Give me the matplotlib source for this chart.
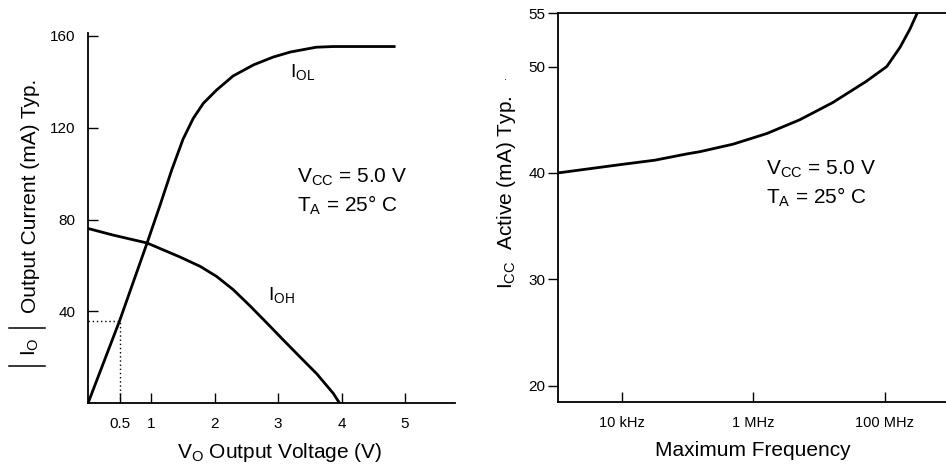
import matplotlib
matplotlib.use("Agg")
import matplotlib.pyplot as plt
from matplotlib.lines import Line2D

plt.rcParams['font.family'] = ['Liberation Sans', 'DejaVu Sans']
plt.rcParams['mathtext.fontset'] = 'custom'
plt.rcParams['mathtext.rm'] = 'Liberation Sans'
plt.rcParams['mathtext.it'] = 'Liberation Sans:italic'

# left chart: output current vs output voltage
v_ol = [0, 0.5, 0.93, 1.14, 1.32, 1.50, 1.66, 1.82, 2.03, 2.29, 2.61, 2.92, 3.19, 3.60, 3.87, 4.83]
i_ol = [0, 36, 69.6, 86.5, 101.5, 115.0, 124.0, 130.6, 136.4, 142.5, 147.3, 150.7, 152.9, 155, 155.3, 155.3]
v_oh = [0, 0.40, 0.93, 1.45, 1.77, 2.03, 2.29, 2.56, 2.82, 3.08, 3.34, 3.61, 3.87, 3.97]
i_oh = [76.1, 73.2, 69.8, 63.7, 59.6, 55.2, 49.5, 42.3, 35.0, 27.6, 20.3, 12.8, 4.3, 0]
v_ticks = [0.5, 1, 2, 3, 4, 5]
v_tick_labels = ['0.5', '1', '2', '3', '4', '5']
i_ticks = [40, 80, 120, 160]
marker_v, marker_i = 0.5, 36

# right chart: supply current vs frequency
freq = [1.07e3, 1e4, 3.2e4, 1e5, 1.55e5, 4.9e5, 1.6e6, 5.1e6, 1.6e7, 5.2e7, 1.07e8, 1.7e8, 2.4e8, 3.2e8]
icc = [40.0, 40.8, 41.2, 41.8, 42.0, 42.7, 43.7, 45.0, 46.6, 48.6, 50.0, 51.8, 53.5, 55.2]
f_ticks = [1e4, 1e6, 1e8]
f_tick_labels = ['10 kHz', '1 MHz', '100 MHz']
icc_ticks = [20, 30, 40, 50, 55]

W, H = 946, 467
fig = plt.figure(figsize=(W / 100, H / 100), dpi=100)


def fx(px):
    return px / W


def fy(py):
    return 1 - py / H


ax1 = fig.add_axes([0.093, 0.1364, 0.388, 0.792])
ax1.plot(v_ol, i_ol, color='black', lw=2)
ax1.plot(v_oh, i_oh, color='black', lw=2)
ax1.plot([0, marker_v, marker_v], [marker_i, marker_i, 0], color='black', lw=1, ls=(0, (1, 2)))
ax1.set_xlim(0, 5.79)
ax1.set_ylim(0, 161)
ax1.set_xticks(v_ticks)
ax1.set_xticklabels(v_tick_labels)
ax1.set_yticks(i_ticks)
ax1.tick_params(direction='in', length=7, width=1, labelsize=11, pad=10)
ax1.tick_params(axis='y', pad=9)
for s in ['top', 'right']:
    ax1.spines[s].set_visible(False)
for s in ['left', 'bottom']:
    ax1.spines[s].set_linewidth(1.3)
ax1.text(3.19, 144, r'$\mathregular{I_{OL}}$', fontsize=14, va='center')
ax1.text(2.84, 47, r'$\mathregular{I_{OH}}$', fontsize=14, va='center')
ax1.text(3.29, 98.5, r'$\mathregular{V_{CC}}$ = 5.0 V', fontsize=15, va='center')
ax1.text(3.29, 86, r'$\mathregular{T_A}$ = 25° C', fontsize=15, va='center')

# axis titles of the left chart
fig.text(fx(280), fy(453), r'$\mathregular{V_O}$ Output Voltage (V)', fontsize=15, ha='center', va='center')
fig.text(fx(30), fy(196), 'Output Current (mA) Typ.', fontsize=15, rotation=90, ha='center', va='center')
fig.text(fx(30), fy(347), r'$\mathregular{I_O}$', fontsize=15, rotation=90, ha='center', va='center')
for py in [328, 366]:
    fig.add_artist(Line2D([fx(9), fx(45)], [fy(py), fy(py)], color='black', lw=1.1))

ax2 = fig.add_axes([0.5899, 0.1398, 0.4101, 0.8317])
ax2.plot(freq, icc, color='black', lw=2)
ax2.set_xscale('log')
ax2.set_xlim(10 ** 3.03, 10 ** 8.93)
ax2.set_ylim(18.5, 55)
ax2.set_xticks(f_ticks)
ax2.set_xticklabels(f_tick_labels)
ax2.minorticks_off()
ax2.set_yticks(icc_ticks)
ax2.tick_params(axis='x', direction='in', length=7, width=1, labelsize=10.5, pad=10)
ax2.tick_params(axis='y', direction='out', length=7, width=1, labelsize=11, pad=2)
ax2.spines['right'].set_visible(False)
for s in ['left', 'bottom', 'top']:
    ax2.spines[s].set_linewidth(1.3)
ax2.text(10 ** 6.20, 40.3, r'$\mathregular{V_{CC}}$ = 5.0 V', fontsize=15, va='center')
ax2.text(10 ** 6.20, 37.7, r'$\mathregular{T_A}$ = 25° C', fontsize=15, va='center')

fig.text(fx(753), fy(450), 'Maximum Frequency', fontsize=15, ha='center', va='center')
fig.text(fx(506), fy(192), r'$\mathregular{I_{CC}}$  Active (mA) Typ.', fontsize=15, rotation=90,
         ha='center', va='center')
fig.text(fx(505), fy(80), '.', fontsize=8, ha='center')

fig.savefig('out.png', dpi=100)
